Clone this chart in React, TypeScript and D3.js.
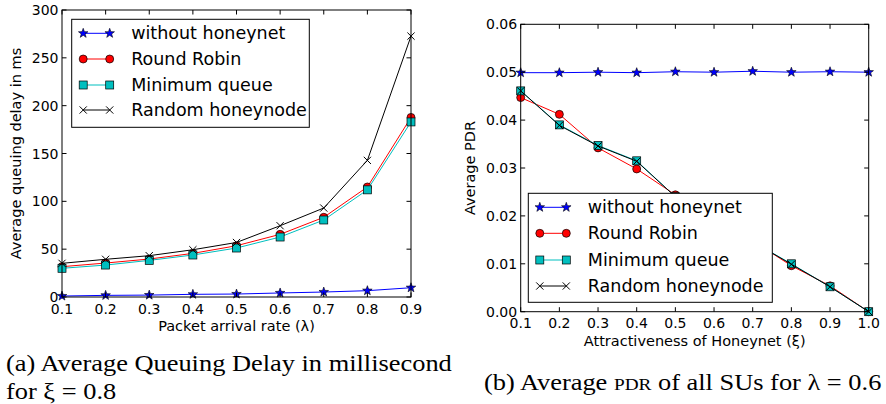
import React from 'react';
import * as d3 from 'd3';

// ---- Data: panel (a) ----
const arrivalRates = [0.1, 0.2, 0.3, 0.4, 0.5, 0.6, 0.7, 0.8, 0.9];
const delayWithout = [1.0, 1.7, 2.0, 2.8, 3.1, 4.2, 5.2, 6.6, 9.7];
const delayRoundRobin = [31.7, 35.5, 39.7, 45.6, 53.6, 65.5, 83.3, 115, 187.7];
const delayMinQueue = [30, 33.4, 38.3, 43.9, 51.2, 62.7, 80.5, 112, 183];
const delayRandom = [35.2, 39.4, 43.2, 49.4, 57, 74.5, 93, 142.8, 272.7];
const delayYTicks = [0, 50, 100, 150, 200, 250, 300];

// ---- Data: panel (b) ----
const attractiveness = [0.1, 0.2, 0.3, 0.4, 0.5, 0.6, 0.7, 0.8, 0.9, 1.0];
const pdrWithout = [0.0499, 0.0499, 0.05, 0.0499, 0.0501, 0.05, 0.0502, 0.05, 0.0501, 0.05];
const pdrRoundRobin = [0.0447, 0.0412, 0.0342, 0.0298, 0.0244, 0.0195, 0.0148, 0.0096, 0.0054, 0.0];
const pdrMinQueue = [0.0461, 0.039, 0.0347, 0.0315, 0.024, 0.0192, 0.0146, 0.01, 0.0052, 0.0];
const pdrRandom = [0.0461, 0.0389, 0.0346, 0.0314, 0.024, 0.0192, 0.0146, 0.0099, 0.0052, 0.0];
const pdrYTicks = [0, 0.01, 0.02, 0.03, 0.04, 0.05, 0.06];

const seriesNames = ['without honeynet', 'Round Robin', 'Minimum queue', 'Random honeynode'];
const seriesColors = ['#0000ff', '#ff0000', '#00bfbf', '#000000'];
const seriesMarkers = ['star', 'circle', 'square', 'x'];

const FONT = 'DejaVu Sans, sans-serif';
const SERIF = 'Liberation Serif, DejaVu Serif, serif';

function starPath(R: number) {
  const r = R * 0.4;
  const pts: [number, number][] = [];
  for (let i = 0; i < 10; i++) {
    const a = -Math.PI / 2 + (i * Math.PI) / 5;
    const rr = i % 2 === 0 ? R : r;
    pts.push([rr * Math.cos(a), rr * Math.sin(a)]);
  }
  return 'M' + pts.map((p) => p[0].toFixed(2) + ',' + p[1].toFixed(2)).join('L') + 'Z';
}

function Marker({ kind, x, y, color }: { kind: string; x: number; y: number; color: string }) {
  if (kind === 'star')
    return <path d={starPath(5)} transform={`translate(${x},${y})`} fill={color} stroke="#000" strokeWidth={0.6} />;
  if (kind === 'circle') return <circle cx={x} cy={y} r={4} fill={color} stroke="#000" strokeWidth={0.7} />;
  if (kind === 'square')
    return <rect x={x - 4} y={y - 4} width={8} height={8} fill={color} stroke="#000" strokeWidth={0.7} />;
  const s = 3.6;
  return (
    <path d={`M${x - s},${y - s}L${x + s},${y + s}M${x - s},${y + s}L${x + s},${y - s}`} stroke="#000" strokeWidth={1} fill="none" />
  );
}

type PanelProps = {
  xs: number[];
  series: number[][];
  xDomain: [number, number];
  yDomain: [number, number];
  yTicks: number[];
  yFmt: (v: number) => string;
  xFmt: (v: number) => string;
  left: number;
  right: number;
  top: number;
  bottom: number;
  xLabel: string;
  yLabel: string;
  yLabelX: number;
  xLabelY: number;
  legend: { x0: number; x1: number; y0: number; y1: number; rows: number[] };
};

function Panel(p: PanelProps) {
  const x = d3.scaleLinear().domain(p.xDomain).range([p.left, p.right]);
  const y = d3.scaleLinear().domain(p.yDomain).range([p.bottom, p.top]);
  const line = d3
    .line<number>()
    .x((_, i) => x(p.xs[i]))
    .y((d) => y(d));
  const tl = 4.5;
  const lg = p.legend;
  return (
    <g>
      <g>
        {p.series.map((s, si) => (
          <g key={si}>
            <path d={line(s) || ''} fill="none" stroke={seriesColors[si]} strokeWidth={1} />
            {s.map((v, i) => (
              <Marker key={i} kind={seriesMarkers[si]} x={x(p.xs[i])} y={y(v)} color={seriesColors[si]} />
            ))}
          </g>
        ))}
      </g>
      {p.xs.map((v, i) => (
        <g key={'xt' + i}>
          <line x1={x(v)} x2={x(v)} y1={p.bottom} y2={p.bottom - tl} stroke="#000" strokeWidth={1} />
          <line x1={x(v)} x2={x(v)} y1={p.top} y2={p.top + tl} stroke="#000" strokeWidth={1} />
          <text x={x(v)} y={p.bottom + 16.5} textAnchor="middle" fontFamily={FONT} fontSize={14} fill="#000">
            {p.xFmt(v)}
          </text>
        </g>
      ))}
      {p.yTicks.map((v, i) => (
        <g key={'yt' + i}>
          <line x1={p.left} x2={p.left + tl} y1={y(v)} y2={y(v)} stroke="#000" strokeWidth={1} />
          <line x1={p.right} x2={p.right - tl} y1={y(v)} y2={y(v)} stroke="#000" strokeWidth={1} />
          <text x={p.left - 3.5} y={y(v) + 5} textAnchor="end" fontFamily={FONT} fontSize={14} fill="#000">
            {p.yFmt(v)}
          </text>
        </g>
      ))}
      <rect x={p.left} y={p.top} width={p.right - p.left} height={p.bottom - p.top} fill="none" stroke="#000" strokeWidth={1} />
      <text x={(p.left + p.right) / 2} y={p.xLabelY} textAnchor="middle" fontFamily={FONT} fontSize={14.5} fill="#000">
        {p.xLabel}
      </text>
      <text
        transform={`translate(${p.yLabelX},${(p.top + p.bottom) / 2}) rotate(-90)`}
        textAnchor="middle"
        fontFamily={FONT}
        fontSize={14.5}
        fill="#000"
      >
        {p.yLabel}
      </text>
      <rect x={lg.x0} y={lg.y0} width={lg.x1 - lg.x0} height={lg.y1 - lg.y0} fill="#fff" stroke="#000" strokeWidth={1} />
      {seriesNames.map((name, i) => {
        const ly = lg.rows[i];
        const hx0 = lg.x0 + 11.5;
        const hx1 = hx0 + 26.5;
        return (
          <g key={'lg' + i}>
            <line x1={hx0} x2={hx1} y1={ly} y2={ly} stroke={seriesColors[i]} strokeWidth={1} />
            <Marker kind={seriesMarkers[i]} x={hx0} y={ly} color={seriesColors[i]} />
            <Marker kind={seriesMarkers[i]} x={hx1} y={ly} color={seriesColors[i]} />
            <text x={hx0 + 48} y={ly + 6} fontFamily={FONT} fontSize={17.5} fill="#000">
              {name}
            </text>
          </g>
        );
      })}
    </g>
  );
}

export default function App() {
  return (
    <svg
      width={886}
      height={404}
      viewBox="0 0 886 404"
      style={{ position: 'fixed', left: 0, top: 0, background: '#fff' }}
    >
      <rect x={0} y={0} width={886} height={404} fill="#fff" />
      <Panel
        xs={arrivalRates}
        series={[delayWithout, delayRoundRobin, delayMinQueue, delayRandom]}
        xDomain={[0.1, 0.9]}
        yDomain={[0, 300]}
        yTicks={delayYTicks}
        yFmt={(v) => String(v)}
        xFmt={(v) => v.toFixed(1)}
        left={62}
        right={411}
        top={10}
        bottom={297}
        xLabel="Packet arrival rate (λ)"
        yLabel="Average queuing delay in ms"
        yLabelX={21}
        xLabelY={331}
        legend={{ x0: 71.7, x1: 309.3, y0: 19.3, y1: 127.3, rows: [33.3, 59, 85, 110] }}
      />
      <Panel
        xs={attractiveness}
        series={[pdrWithout, pdrRoundRobin, pdrMinQueue, pdrRandom]}
        xDomain={[0.1, 1.0]}
        yDomain={[0, 0.06]}
        yTicks={pdrYTicks}
        yFmt={(v) => v.toFixed(2)}
        xFmt={(v) => v.toFixed(1)}
        left={520.7}
        right={868.7}
        top={24.3}
        bottom={311.7}
        xLabel="Attractiveness of Honeynet (ξ)"
        yLabel="Average PDR"
        yLabelX={475}
        xLabelY={346}
        legend={{ x0: 528.3, x1: 772.3, y0: 193.3, y1: 302.3, rows: [207.3, 233.3, 260, 286] }}
      />
      <text transform="translate(6,371) scale(1.1,1)" fontFamily={SERIF} fontSize={24} fill="#000">
        (a) Average Queuing Delay in millisecond
      </text>
      <text transform="translate(6,399) scale(1.1,1)" fontFamily={SERIF} fontSize={24} fill="#000">
        for ξ = 0.8
      </text>
      <text transform="translate(484,390) scale(1.1,1)" fontFamily={SERIF} fontSize={24} fill="#000">
        (b) Average <tspan fontSize={17.5}>PDR</tspan> of all SUs for λ = 0.6
      </text>
    </svg>
  );
}
